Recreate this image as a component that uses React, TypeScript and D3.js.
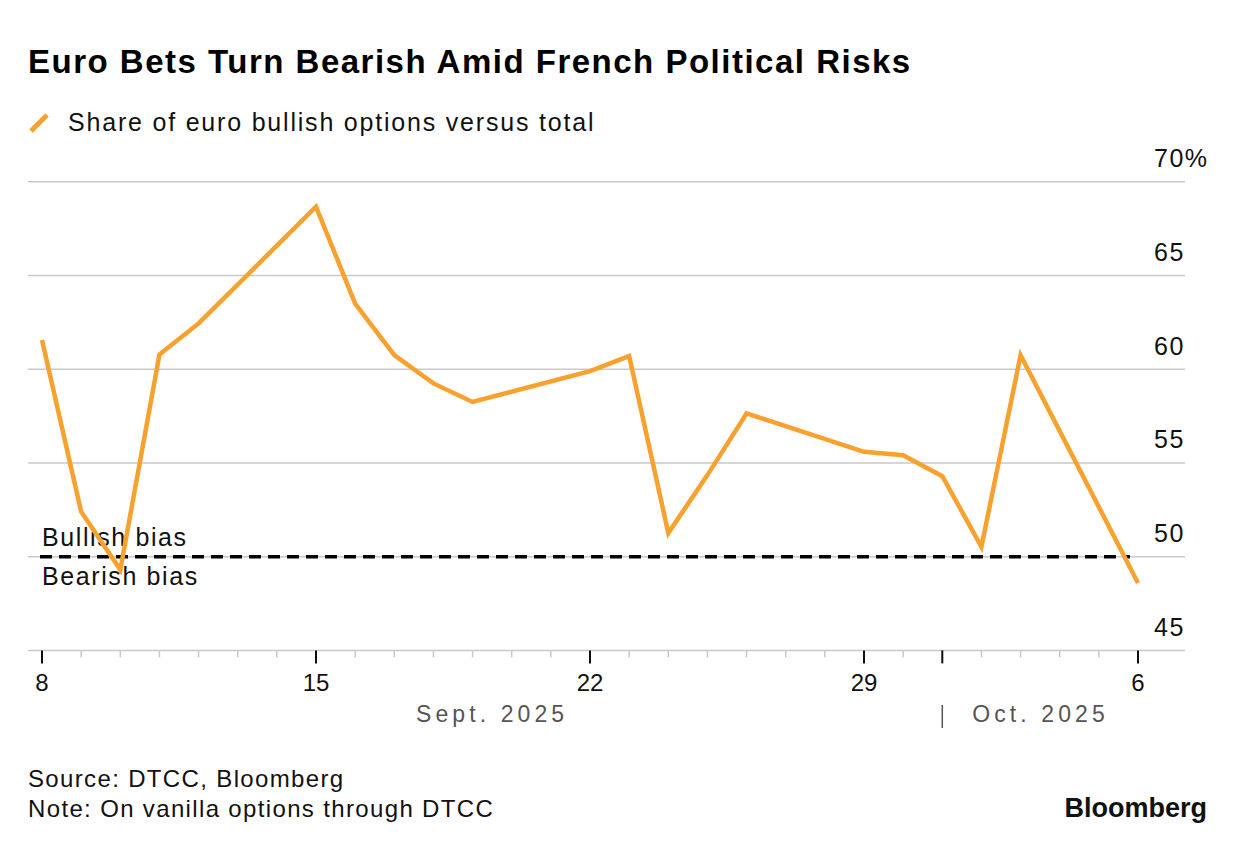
import * as d3 from "d3";

const W = 1237;
const H = 852;

// trading days (weekends skipped, line bridges them)
const dates = [
  "2025-09-08", "2025-09-09", "2025-09-10", "2025-09-11", "2025-09-12",
  "2025-09-15", "2025-09-16", "2025-09-17", "2025-09-18", "2025-09-19",
  "2025-09-22", "2025-09-23", "2025-09-24", "2025-09-25", "2025-09-26",
  "2025-09-29", "2025-09-30", "2025-10-01", "2025-10-02", "2025-10-03",
  "2025-10-06",
];
const bullishShare = [
  61.55, 52.4, 49.3, 60.78, 62.44,
  68.67, 63.5, 60.75, 59.24, 58.25,
  59.9, 60.7, 51.26, 54.35, 57.64,
  55.59, 55.41, 54.29, 50.53, 60.75,
  48.6,
];
const yTicks = [45, 50, 55, 60, 65, 70];
const majorDays = ["2025-09-08", "2025-09-15", "2025-09-22", "2025-09-29", "2025-10-06"];
const monthStart = "2025-10-01";

const ORANGE = "#f9a12e";
const GRID = "#c9c9c9";
const FONT = "'Liberation Sans', Arial, Helvetica, sans-serif";

const parse = d3.utcParse("%Y-%m-%d");

export default function App() {
  const x = d3
    .scaleUtc()
    .domain([parse("2025-09-08")!, parse("2025-10-06")!])
    .range([42, 1138]);
  const y = d3.scaleLinear().domain([45, 70]).range([650.4, 181.7]);

  const points = dates.map((d, i) => ({ date: parse(d)!, value: bullishShare[i] }));
  const line = d3
    .line<{ date: Date; value: number }>()
    .x((d) => x(d.date))
    .y((d) => y(d.value));

  const allDays = d3.utcDay.range(x.domain()[0], d3.utcDay.offset(x.domain()[1], 1));
  const majorSet = new Set(majorDays.concat([monthStart]));
  const fmtKey = d3.utcFormat("%Y-%m-%d");

  const left = 28;
  const right = 1185;
  const axisY = y(45);
  const xOct = x(parse(monthStart)!);

  return (
    <svg
      width={W}
      height={H}
      style={{ position: "absolute", left: 0, top: 0, background: "#fff" }}
      fontFamily={FONT}
    >
      {/* title + legend */}
      <text x={28} y={73} fontSize={33} fontWeight={700} fill="#000" letterSpacing={1.5}>
        Euro Bets Turn Bearish Amid French Political Risks
      </text>
      <line x1={31} y1={131} x2={47} y2={115} stroke={ORANGE} strokeWidth={5} />
      <text x={68} y={131} fontSize={25} fill="#111" letterSpacing={1.8}>
        Share of euro bullish options versus total
      </text>

      {/* gridlines */}
      {yTicks.slice(1).map((t) => (
        <line key={t} x1={left} x2={right} y1={y(t)} y2={y(t)} stroke={GRID} strokeWidth={1.5} />
      ))}
      {yTicks.map((t) => (
        <text key={"l" + t} x={1154} y={y(t) - 14.5} fontSize={25} fill="#111" letterSpacing={1.5}>
          {t === 70 ? `${t}%` : t}
        </text>
      ))}

      {/* x axis */}
      <line x1={left} x2={right} y1={axisY} y2={axisY} stroke={GRID} strokeWidth={1.5} />
      {allDays.map((d) => {
        const major = majorSet.has(fmtKey(d));
        return (
          <line
            key={fmtKey(d)}
            x1={x(d)}
            x2={x(d)}
            y1={axisY}
            y2={axisY + (major ? 13 : 7)}
            stroke={major ? "#111" : GRID}
            strokeWidth={major ? 2 : 1.5}
          />
        );
      })}
      {majorDays.map((d) => (
        <text
          key={"t" + d}
          x={x(parse(d)!)}
          y={691}
          fontSize={24}
          textAnchor="middle"
          fill="#111"
        >
          {d3.utcFormat("%-d")(parse(d)!)}
        </text>
      ))}
      <text
        x={(x.range()[0] + xOct) / 2}
        y={722}
        fontSize={23}
        textAnchor="middle"
        fill="#555"
        letterSpacing={4.1}
      >
        Sept. 2025
      </text>
      <line x1={xOct} x2={xOct} y1={705} y2={728} stroke="#555" strokeWidth={1.5} />
      <text x={xOct + 30} y={722} fontSize={23} fill="#555" letterSpacing={4.1}>
        Oct. 2025
      </text>

      {/* bias threshold */}
      <line
        x1={40}
        x2={1130}
        y1={y(50)}
        y2={y(50)}
        stroke="#000"
        strokeWidth={3.5}
        strokeDasharray="12 7"
      />
      <text x={42} y={546} fontSize={25} fill="#111" letterSpacing={1.6}>
        Bullish bias
      </text>
      <text x={42} y={585} fontSize={25} fill="#111" letterSpacing={1.6}>
        Bearish bias
      </text>

      {/* series */}
      <path
        d={line(points) ?? ""}
        fill="none"
        stroke={ORANGE}
        strokeWidth={4.5}
        strokeLinejoin="miter"
      />

      {/* footer */}
      <text x={28} y={787} fontSize={24} fill="#111" letterSpacing={1.35}>
        Source: DTCC, Bloomberg
      </text>
      <text x={28} y={817} fontSize={24} fill="#111" letterSpacing={1.35}>
        Note: On vanilla options through DTCC
      </text>
      <text x={1207} y={817} fontSize={27} fontWeight={700} textAnchor="end" fill="#111">
        Bloomberg
      </text>
    </svg>
  );
}
